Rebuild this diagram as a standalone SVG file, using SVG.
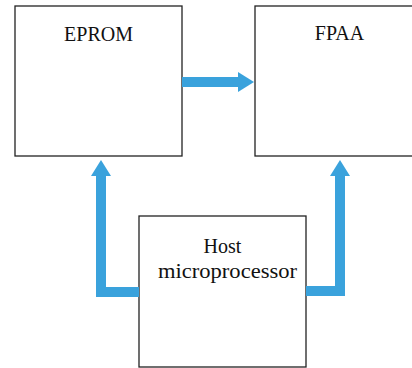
<svg xmlns="http://www.w3.org/2000/svg" width="412" height="368" viewBox="0 0 412 368">
<style>
.box{fill:#fff;stroke:#222;stroke-width:1.3}
.lbl{font-family:"Liberation Serif","Times New Roman",serif;font-size:20px;fill:#111;text-anchor:middle}
.conn{fill:none;stroke:#3aa2dc;stroke-width:10;stroke-linejoin:miter}
</style>
<defs>
<marker id="ah" markerUnits="userSpaceOnUse" markerWidth="16" markerHeight="20" refX="0" refY="10" orient="auto" viewBox="0 0 16 20">
<path d="M0,0 L16,10 L0,20 z" fill="#3aa2dc"/>
</marker>
</defs>
<rect width="412" height="368" fill="#fff"/>
<g id="eprom">
<rect class="box" x="15" y="6" width="167" height="150"/>
<text class="lbl" x="98.5" y="41">EPROM</text>
</g>
<g id="fpaa">
<rect class="box" x="255" y="6" width="170" height="150"/>
<text class="lbl" x="339.5" y="40">FPAA</text>
</g>
<g id="host">
<rect class="box" x="139" y="216" width="167" height="151"/>
<text class="lbl" x="222.5" y="253">Host</text>
<text class="lbl" x="227.5" y="278" textLength="139" lengthAdjust="spacingAndGlyphs">microprocessor</text>
</g>
<g id="connectors">
<path class="conn" d="M182 82 H238" marker-end="url(#ah)"/>
<path class="conn" d="M139 292 H101 V176" marker-end="url(#ah)"/>
<path class="conn" d="M306 291 H340 V176" marker-end="url(#ah)"/>
</g>
</svg>
